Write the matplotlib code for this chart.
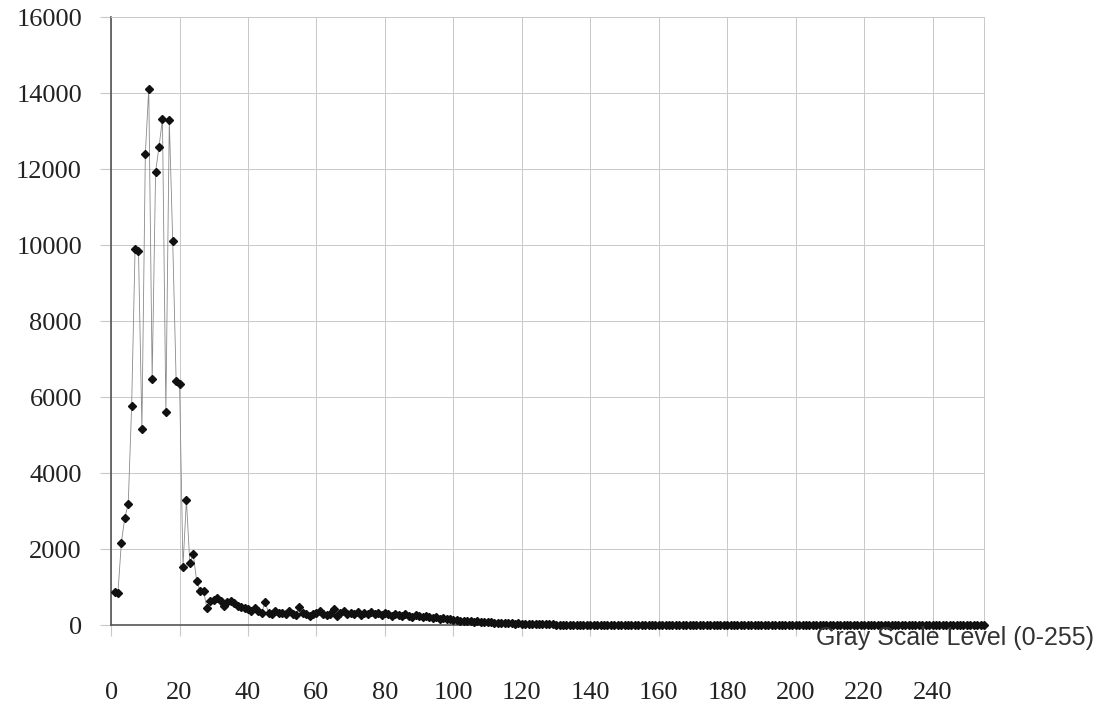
import matplotlib.pyplot as plt

# histogram counts for gray levels 1..255
counts = [
    890, 865, 2180, 2840, 3190, 5775, 9900, 9855, 5180, 12400,
    14130, 6490, 11940, 12600, 13320, 5610, 13290, 10125, 6440, 6355,
    1550, 3300, 1640, 1875, 1170, 900, 900, 470, 645, 670,
    716, 653, 513, 626, 645, 584, 521, 495, 453, 426,
    389, 453, 389, 337, 626, 321, 303, 382, 337, 320,
    303, 382, 303, 276, 495, 337, 303, 258, 303, 337,
    389, 303, 280, 303, 426, 258, 340, 390, 290, 340,
    300, 360, 280, 330, 300, 350, 290, 320, 280, 330,
    300, 260, 310, 280, 250, 290, 260, 230, 270, 240,
    220, 250, 210, 190, 220, 180, 200, 160, 170, 140,
    150, 120, 130, 110, 120, 100, 110, 90, 95, 80,
    85, 70, 75, 60, 65, 55, 60, 50, 55, 45,
    50, 40, 45, 40, 35, 40, 35, 30, 35, 25,
    25, 20, 22, 18, 20, 15, 18, 16, 14, 17,
    15, 13, 16, 14, 12, 15, 13, 12, 14, 12,
    11, 13, 12, 10, 12, 11, 10, 12, 11, 10,
    12, 10, 9, 11, 10, 12, 10, 9, 11, 10,
    9, 11, 10, 12, 10, 9, 11, 10, 9, 10,
    11, 9, 10, 12, 10, 9, 11, 10, 9, 10,
    11, 9, 10, 12, 10, 9, 11, 10, 9, 10,
    11, 9, 10, 11, 10, 9, 11, 10, 9, 10,
    11, 9, 10, 12, 10, 9, 11, 10, 9, 10,
    11, 9, 10, 11, 10, 9, 11, 10, 9, 10,
    11, 9, 10, 12, 10, 9, 11, 10, 9, 10,
    11, 9, 10, 11, 10, 9, 11, 10, 9, 10,
    11, 9, 10, 11, 10,
]
levels = list(range(1, len(counts) + 1))

x_ticks = list(range(0, 241, 20))
y_ticks = list(range(0, 16001, 2000))

fig = plt.figure(figsize=(11, 7.14), dpi=100)
ax = fig.add_axes([0.101, 0.124, 0.7935, 0.8515])

ax.plot(levels, counts, color='#8a8a8a', linewidth=0.6, zorder=2)
ax.plot(levels, counts, linestyle='none', marker='D', markersize=4.5,
        color='#111111', zorder=3, clip_on=False)

ax.set_xlim(0, 255)
ax.set_ylim(0, 16000)
ax.set_xticks(x_ticks)
ax.set_yticks(y_ticks)
ax.grid(True, color='#c8c8c8', linewidth=0.7)
ax.set_axisbelow(True)

for side in ['top', 'right']:
    ax.spines[side].set_color('#c8c8c8')
    ax.spines[side].set_linewidth(0.7)
for side in ['left', 'bottom']:
    ax.spines[side].set_color('#555555')
    ax.spines[side].set_linewidth(1.2)

ax.tick_params(axis='both', direction='out', length=8, color='#c8c8c8',
               labelsize=19, labelcolor='#222222')
ax.tick_params(axis='x', pad=33)
ax.tick_params(axis='y', pad=13)
for lbl in ax.get_xticklabels() + ax.get_yticklabels():
    lbl.set_family('Liberation Serif')

fig.text(816 / 1100, 1 - 638 / 714, 'Gray Scale Level (0-255)',
         family='Liberation Sans', fontsize=18, color='#333333',
         ha='left', va='center')

plt.savefig('out.png', dpi=100)
